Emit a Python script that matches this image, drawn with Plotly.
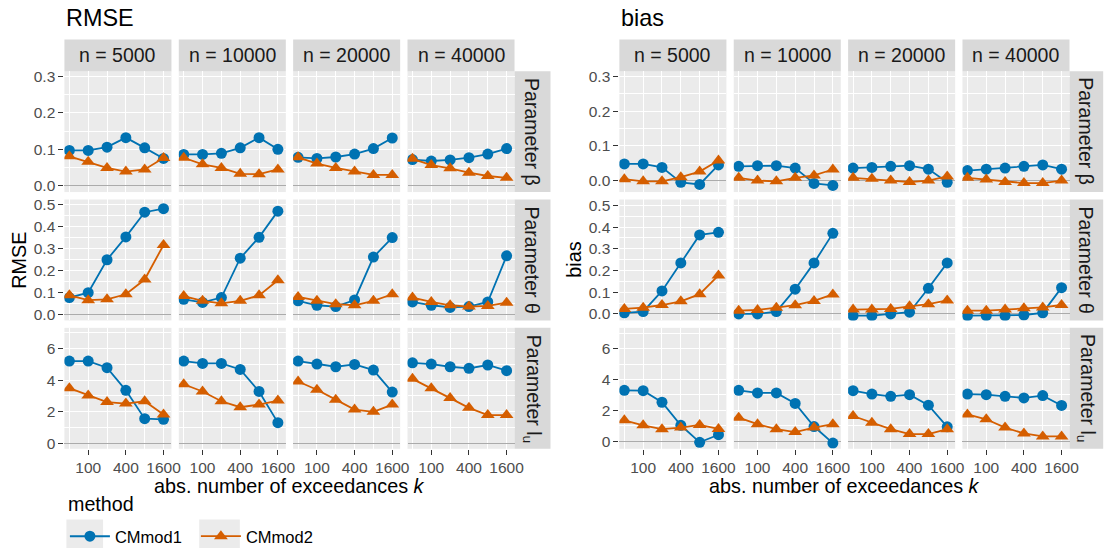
import plotly.graph_objects as go

W, H = 1113, 554
FONT = "Liberation Sans, Arial, sans-serif"

# ---------------- data ----------------
k_values = [50, 100, 200, 400, 800, 1600]
x_tickvals = [100, 400, 1600]
x_minor = [50, 200, 800]
sample_labels = ["n = 5000", "n = 10000", "n = 20000", "n = 40000"]
param_labels = ["Parameter β", "Parameter θ", "Parameter l<sub>u</sub>"]
methods = ["CMmod1", "CMmod2"]
colors = {"CMmod1": "#0072B2", "CMmod2": "#D55E00"}
symbols = {"CMmod1": "circle", "CMmod2": "triangle-up"}
msizes = {"CMmod1": 11, "CMmod2": 12}

# RMSE (rows: n = 5000, 10000, 20000, 40000)
rmse_beta_cm1 = [[0.097, 0.097, 0.106, 0.132, 0.104, 0.075],
                 [0.086, 0.086, 0.089, 0.104, 0.132, 0.100],
                 [0.078, 0.075, 0.079, 0.087, 0.102, 0.131],
                 [0.072, 0.068, 0.071, 0.077, 0.087, 0.102]]
rmse_beta_cm2 = [[0.081, 0.066, 0.049, 0.039, 0.045, 0.076],
                 [0.077, 0.059, 0.049, 0.033, 0.032, 0.045],
                 [0.078, 0.061, 0.049, 0.039, 0.030, 0.030],
                 [0.074, 0.057, 0.048, 0.036, 0.027, 0.022]]
rmse_theta_cm1 = [[0.078, 0.100, 0.250, 0.354, 0.466, 0.482],
                  [0.070, 0.056, 0.078, 0.257, 0.352, 0.471],
                  [0.063, 0.043, 0.037, 0.067, 0.262, 0.351],
                  [0.058, 0.043, 0.033, 0.037, 0.058, 0.268]]
rmse_theta_cm2 = [[0.088, 0.066, 0.070, 0.093, 0.160, 0.317],
                  [0.085, 0.063, 0.052, 0.063, 0.088, 0.157],
                  [0.081, 0.063, 0.048, 0.043, 0.063, 0.093],
                  [0.078, 0.058, 0.043, 0.037, 0.040, 0.055]]
rmse_lu_cm1 = [[5.21, 5.21, 4.79, 3.35, 1.55, 1.51],
               [5.21, 5.06, 5.06, 4.68, 3.28, 1.30],
               [5.21, 5.02, 4.85, 5.00, 4.64, 3.24],
               [5.10, 5.02, 4.85, 4.75, 4.96, 4.60]]
rmse_lu_cm2 = [[3.49, 3.03, 2.61, 2.51, 2.66, 1.82],
               [3.74, 3.28, 2.66, 2.28, 2.45, 2.70],
               [3.91, 3.39, 2.76, 2.13, 1.99, 2.45],
               [4.08, 3.49, 2.86, 2.24, 1.78, 1.78]]

# bias
bias_beta_cm1 = [[0.048, 0.048, 0.038, -0.005, -0.011, 0.045],
                 [0.041, 0.043, 0.043, 0.036, -0.008, -0.014],
                 [0.036, 0.038, 0.041, 0.043, 0.033, -0.005],
                 [0.029, 0.033, 0.036, 0.041, 0.045, 0.033]]
bias_beta_cm2 = [[0.004, -0.002, -0.002, 0.010, 0.026, 0.058],
                 [0.008, 0.000, -0.002, 0.008, 0.015, 0.032],
                 [0.008, 0.005, 0.000, -0.004, 0.000, 0.012],
                 [0.008, 0.003, -0.004, -0.007, -0.007, 0.000]]
bias_theta_cm1 = [[0.005, 0.011, 0.106, 0.235, 0.364, 0.376],
                  [0.000, 0.000, 0.011, 0.114, 0.235, 0.371],
                  [-0.008, -0.008, 0.000, 0.008, 0.118, 0.235],
                  [-0.008, -0.008, -0.008, -0.005, 0.005, 0.121]]
bias_theta_cm2 = [[0.023, 0.029, 0.041, 0.058, 0.091, 0.177],
                  [0.015, 0.018, 0.029, 0.040, 0.060, 0.090],
                  [0.020, 0.020, 0.023, 0.035, 0.045, 0.062],
                  [0.015, 0.015, 0.020, 0.026, 0.030, 0.041]]
bias_lu_cm1 = [[3.30, 3.28, 2.53, 1.04, -0.06, 0.43],
               [3.30, 3.13, 3.13, 2.45, 0.96, -0.11],
               [3.28, 3.06, 2.91, 3.02, 2.34, 0.94],
               [3.06, 3.02, 2.91, 2.81, 2.96, 2.32]]
bias_lu_cm2 = [[1.36, 1.04, 0.79, 0.89, 1.06, 0.80],
               [1.53, 1.11, 0.79, 0.60, 0.89, 1.11],
               [1.64, 1.21, 0.79, 0.47, 0.47, 0.79],
               [1.74, 1.43, 0.89, 0.51, 0.32, 0.32]]

metric_titles = ["RMSE", "bias"]
metric_data = [
    [(rmse_beta_cm1, rmse_beta_cm2), (rmse_theta_cm1, rmse_theta_cm2), (rmse_lu_cm1, rmse_lu_cm2)],
    [(bias_beta_cm1, bias_beta_cm2), (bias_theta_cm1, bias_theta_cm2), (bias_lu_cm1, bias_lu_cm2)],
]
# y ranges per metric / row
y_ranges = [
    [[-0.017, 0.314], [-0.026, 0.524], [-0.36, 7.32]],
    [[-0.033, 0.315], [-0.030, 0.527], [-0.48, 7.34]],
]
y_dticks = [0.1, 0.1, 2]
y_formats = [".1f", ".1f", "d"]

# ---------------- layout geometry (pixels) ----------------
block_offset = [0, 560]
col_x0 = [65 + i * 115.4 for i in range(4)]
panel_w = 108
row_y0 = [69, 199, 329]
panel_h = 122.5
strip_top = 37
strip_right_w = [36.3, 34]


def fx(p):
    return p / W


def fy(p):
    return 1 - p / H


fig = go.Figure()
layout = {}
shapes = []
annotations = []

idx = 0
for s in range(2):
    for r in range(3):
        for c in range(4):
            idx += 1
            xa = "x" if idx == 1 else f"x{idx}"
            ya = "y" if idx == 1 else f"y{idx}"
            xkey = "xaxis" if idx == 1 else f"xaxis{idx}"
            ykey = "yaxis" if idx == 1 else f"yaxis{idx}"
            x0 = block_offset[s] + col_x0[c]
            y0 = row_y0[r]
            bottom = (r == 2)
            left = (c == 0)
            layout[xkey] = dict(
                domain=[fx(x0), fx(x0 + panel_w)], anchor=ya, type="log",
                range=[1.6198, 3.3309],
                tickvals=x_tickvals, ticktext=[str(v) for v in x_tickvals],
                showticklabels=bottom, ticks="outside" if bottom else "",
                ticklen=5, tickwidth=1.1, tickcolor="#333333",
                tickfont=dict(size=15.5, color="#4D4D4D", family=FONT),
                showgrid=True, gridcolor="white", gridwidth=1.2,
                minor=dict(tickvals=x_minor, showgrid=True, gridcolor="white",
                           gridwidth=0.6, ticks=""),
                zeroline=False, showline=False, fixedrange=True,
            )
            dt = y_dticks[r]
            layout[ykey] = dict(
                domain=[fy(y0 + panel_h), fy(y0)], anchor=xa,
                range=y_ranges[s][r], dtick=dt, tick0=0, tickformat=y_formats[r],
                showticklabels=left, ticks="outside" if left else "",
                ticklen=5, tickwidth=1.1, tickcolor="#333333",
                tickfont=dict(size=15.5, color="#4D4D4D", family=FONT),
                showgrid=True, gridcolor="white", gridwidth=1.2,
                minor=dict(dtick=dt / 2, tick0=0, showgrid=True, gridcolor="white",
                           gridwidth=0.6, ticks=""),
                zeroline=True, zerolinecolor="#ABABAB", zerolinewidth=1.3,
                showline=False, fixedrange=True,
            )
            for m, series in zip(methods, metric_data[s][r]):
                fig.add_trace(go.Scatter(
                    x=k_values, y=series[c], xaxis=xa, yaxis=ya,
                    mode="lines+markers", name=m, legendgroup=m,
                    showlegend=(idx == 1),
                    line=dict(color=colors[m], width=1.8),
                    marker=dict(color=colors[m], symbol=symbols[m], size=msizes[m],
                                line=dict(width=0)),
                    hoverinfo="skip",
                ))
            # column strip
            if r == 0:
                shapes.append(dict(type="rect", xref="paper", yref="paper",
                                   x0=fx(x0), x1=fx(x0 + panel_w),
                                   y0=fy(y0), y1=fy(strip_top),
                                   fillcolor="#D9D9D9", line=dict(width=0), layer="below"))
                annotations.append(dict(text=sample_labels[c], xref="paper", yref="paper",
                                        x=fx(x0 + panel_w / 2), y=fy((strip_top + y0) / 2),
                                        showarrow=False, xanchor="center", yanchor="middle",
                                        font=dict(size=19.5, color="#1A1A1A", family=FONT)))
            # row strip
            if c == 3:
                sx0 = x0 + panel_w
                sx1 = sx0 + strip_right_w[s]
                shapes.append(dict(type="rect", xref="paper", yref="paper",
                                   x0=fx(sx0), x1=fx(sx1),
                                   y0=fy(y0 + panel_h), y1=fy(y0),
                                   fillcolor="#D9D9D9", line=dict(width=0), layer="below"))
                annotations.append(dict(text=param_labels[r], xref="paper", yref="paper",
                                        x=fx((sx0 + sx1) / 2), y=fy(y0 + panel_h / 2),
                                        textangle=90, showarrow=False,
                                        xanchor="center", yanchor="middle",
                                        font=dict(size=19.5, color="#1A1A1A", family=FONT)))

# titles, axis titles
for s in range(2):
    off = block_offset[s]
    annotations.append(dict(text=metric_titles[s], xref="paper", yref="paper",
                            x=fx(off + 65), y=fy(15), xanchor="left", yanchor="middle",
                            showarrow=False, font=dict(size=23.4, color="black", family=FONT)))
    annotations.append(dict(text="abs. number of exceedances <i>k</i>", xref="paper", yref="paper",
                            x=fx(off + (col_x0[0] + col_x0[3] + panel_w) / 2), y=fy(489),
                            xanchor="center", yanchor="middle", showarrow=False,
                            font=dict(size=19.8, color="black", family=FONT)))
    annotations.append(dict(text=metric_titles[s], xref="paper", yref="paper",
                            x=fx(off + 19), y=fy((row_y0[0] + row_y0[2] + panel_h) / 2),
                            textangle=-90, xanchor="center", yanchor="middle", showarrow=False,
                            font=dict(size=19.8, color="black", family=FONT)))

# legend title
annotations.append(dict(text="method", xref="paper", yref="paper",
                        x=fx(67), y=fy(507.5), xanchor="left", yanchor="middle",
                        showarrow=False, font=dict(size=19.7, color="black", family=FONT)))

# legend key backgrounds
for kx0, kx1 in [(67, 104), (201, 242)]:
    shapes.append(dict(type="rect", xref="paper", yref="paper",
                       x0=fx(kx0), x1=fx(kx1), y0=fy(552), y1=fy(523),
                       fillcolor="#EBEBEB", line=dict(width=0), layer="below"))

layout.update(dict(
    width=W, height=H,
    margin=dict(l=0, r=0, t=0, b=0),
    paper_bgcolor="white", plot_bgcolor="#EBEBEB",
    font=dict(family=FONT),
    shapes=shapes, annotations=annotations,
    showlegend=True,
    legend=dict(orientation="h", x=fx(65.5), xanchor="left", y=fy(540.5), yanchor="middle",
                font=dict(size=16.5, color="black", family=FONT),
                bgcolor="rgba(0,0,0,0)", itemwidth=40, entrywidth=76,
                entrywidthmode="pixels", itemclick=False, itemdoubleclick=False),
))
fig.update_layout(**layout)
fig.write_html("out.html", config={"displayModeBar": False})
